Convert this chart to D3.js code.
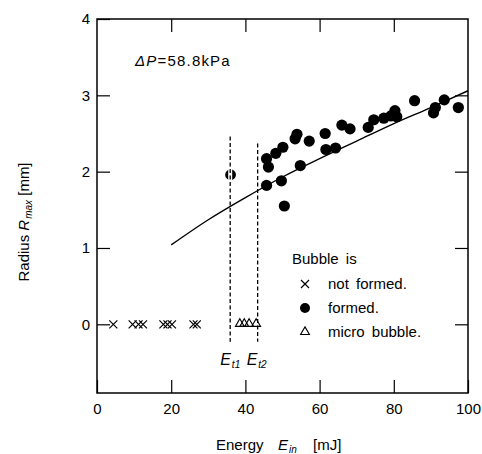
<!DOCTYPE html>
<html>
<head>
<meta charset="utf-8">
<script src="https://cdn.jsdelivr.net/npm/d3@7/dist/d3.min.js"></script>
<style>
  html, body { margin: 0; padding: 0; background: #fff; }
  svg { display: block; }
  text { font-family: "Liberation Sans", Arial, Helvetica, sans-serif; fill: #000; }
</style>
</head>
<body>
<svg id="chart" width="482" height="454"></svg>
<script>
// Energy (mJ) where no bubble was formed; radius plotted at 0
const notFormedE = [4.4, 9.6, 11.2, 12.4, 17.9, 19.0, 20.2, 26.0, 26.9];
const notFormedR = [0, 0, 0, 0, 0, 0, 0, 0, 0];

// Energy (mJ) giving only micro bubbles; radius plotted at 0
const microE = [38.5, 39.7, 41.0, 42.9];
const microR = [0, 0, 0, 0];

// Formed bubbles: energy (mJ) and maximum radius (mm)
const formedE = [45.7, 46.2, 48.2, 50.1, 53.4, 53.9, 57.2, 61.5, 61.7, 64.3,
                 66.0, 68.2, 73.1, 74.6, 77.3, 79.2, 80.3, 80.8, 85.6, 90.7,
                 91.2, 93.6, 97.4, 54.8, 45.7, 49.7, 50.5];
const formedR = [2.17, 2.06, 2.24, 2.32, 2.43, 2.49, 2.40, 2.50, 2.29, 2.31,
                 2.61, 2.56, 2.58, 2.68, 2.70, 2.73, 2.80, 2.72, 2.93, 2.77,
                 2.84, 2.94, 2.84, 2.08, 1.82, 1.88, 1.55];

// Single bubble observed at the first threshold energy
const thresholdPointE = [36.0];
const thresholdPointR = [1.96];

// Fitted curve through the formed-bubble data
const fitE = [20, 30, 40, 50, 60, 70, 80, 90, 100];
const fitR = [1.04, 1.37, 1.66, 1.93, 2.17, 2.40, 2.63, 2.84, 3.06];

// Threshold energies and extent of their marker lines
const thresholdE = [35.9, 43.3];
const thresholdTop = [2.46, 2.37];
const thresholdBottom = -0.23;
const thresholdNames = ["t1", "t2"];

// Axis ticks
const xTicks = [0, 20, 40, 60, 80, 100];
const yTicks = [0, 1, 2, 3, 4];

// Legend entries
const legendKinds = ["cross", "dot", "triangle"];
const legendLabels = ["not formed.", "formed.", "micro bubble."];

const svg = d3.select("#chart");
const frame = { left: 97, right: 468, top: 19, bottom: 393 };

const x = d3.scaleLinear().domain([0, 100]).range([frame.left, frame.right]);
const y = d3.scaleLinear().domain([-0.9, 4]).range([frame.bottom, frame.top]);

const tickLen = 13;
const font = 15;

// Plot frame
svg.append("rect")
  .attr("x", frame.left).attr("y", frame.top)
  .attr("width", frame.right - frame.left)
  .attr("height", frame.bottom - frame.top)
  .attr("fill", "none").attr("stroke", "#000").attr("stroke-width", 1.5);

// Inward ticks on all four sides
const axisBottom = d3.axisBottom(x).tickValues(xTicks).tickSize(-tickLen).tickPadding(10).tickFormat(d3.format("d"));
const axisTop = d3.axisTop(x).tickValues(xTicks.slice(1, -1)).tickSize(-tickLen).tickFormat("");
const axisLeft = d3.axisLeft(y).tickValues(yTicks).tickSize(-tickLen).tickPadding(7).tickFormat(d3.format("d"));
const axisRight = d3.axisRight(y).tickValues(yTicks.slice(0, -1)).tickSize(-tickLen).tickFormat("");

function styleAxis(g) {
  g.select(".domain").remove();
  g.selectAll(".tick line").attr("stroke", "#000").attr("stroke-width", 1.2);
  g.selectAll(".tick text").attr("font-size", font).attr("fill", "#000")
    .style("font-family", '"Liberation Sans", Arial, sans-serif');
}

svg.append("g").attr("transform", `translate(0,${frame.bottom})`).call(axisBottom).call(styleAxis);
svg.append("g").attr("transform", `translate(0,${frame.top})`).call(axisTop).call(styleAxis);
svg.append("g").attr("transform", `translate(${frame.left},0)`).call(axisLeft).call(styleAxis);
svg.append("g").attr("transform", `translate(${frame.right},0)`).call(axisRight).call(styleAxis);

// Fitted curve
const line = d3.line().x(d => x(d[0])).y(d => y(d[1])).curve(d3.curveMonotoneX);
svg.append("path")
  .datum(fitE.map((e, i) => [e, fitR[i]]))
  .attr("d", line)
  .attr("fill", "none").attr("stroke", "#000").attr("stroke-width", 1.4);

// Formed bubbles
svg.append("g").selectAll("circle")
  .data(formedE.map((e, i) => [e, formedR[i]]))
  .join("circle")
  .attr("cx", d => x(d[0])).attr("cy", d => y(d[1]))
  .attr("r", 5.6).attr("fill", "#000");

// Bubble sitting on the first threshold line
svg.append("g").selectAll("circle")
  .data(thresholdPointE.map((e, i) => [e, thresholdPointR[i]]))
  .join("circle")
  .attr("cx", d => x(d[0])).attr("cy", d => y(d[1]))
  .attr("r", 5.4).attr("fill", "#000");

// Threshold lines with a white gap around them
const thr = thresholdE.map((e, i) => ({ e, top: thresholdTop[i], name: thresholdNames[i] }));
svg.append("g").selectAll("line")
  .data(thr.slice(0, 1))
  .join("line")
  .attr("x1", d => x(d.e)).attr("x2", d => x(d.e))
  .attr("y1", y(thresholdPointR[0]) - 6).attr("y2", y(thresholdPointR[0]) + 6)
  .attr("stroke", "#fff").attr("stroke-width", 4);
svg.append("g").selectAll("line")
  .data(thr)
  .join("line")
  .attr("x1", d => x(d.e)).attr("x2", d => x(d.e))
  .attr("y1", d => y(d.top)).attr("y2", y(thresholdBottom))
  .attr("stroke", "#000").attr("stroke-width", 1.3)
  .attr("stroke-dasharray", "4,2.5");

// Not-formed crosses
function cross(g, cx, cy, s) {
  g.append("path")
    .attr("d", `M${cx - s},${cy - s}L${cx + s},${cy + s}M${cx - s},${cy + s}L${cx + s},${cy - s}`)
    .attr("stroke", "#000").attr("stroke-width", 1.2).attr("fill", "none");
}
const crossG = svg.append("g");
notFormedE.forEach((e, i) => cross(crossG, x(e), y(notFormedR[i]), 4));

// Micro bubble triangles
const tri = d3.symbol().type(d3.symbolTriangle).size(34);
svg.append("g").selectAll("path")
  .data(microE.map((e, i) => [e, microR[i]]))
  .join("path")
  .attr("d", tri)
  .attr("transform", d => `translate(${x(d[0])},${y(d[1]) - 0.5})`)
  .attr("fill", "none").attr("stroke", "#000").attr("stroke-width", 1.1);

// Threshold labels below the dashed lines
const thrLabels = svg.append("g");
thr.forEach((d, i) => {
  const t = thrLabels.append("text")
    .attr("x", x(d.e) - 10 + (i === 1 ? -1 : 0)).attr("y", 365)
    .attr("font-size", 16).attr("font-style", "italic");
  t.append("tspan").text("E");
  t.append("tspan").attr("font-size", 10).attr("dy", 3).attr("dx", 1).text(d.name);
});

// Pressure annotation
const pLabel = svg.append("text").attr("x", 135).attr("y", 66).attr("font-size", font)
  .attr("letter-spacing", 1.2);
pLabel.append("tspan").attr("font-style", "italic").text("\u0394P");
pLabel.append("tspan").text("=58.8kPa");

// Legend
const legend = svg.append("g");
legend.append("text").attr("x", 292).attr("y", 264).attr("font-size", font)
  .attr("word-spacing", 3).text("Bubble is");
legendKinds.forEach((k, i) => {
  const cy = 284 + i * 24;
  if (k === "cross") cross(legend, 305, cy, 4);
  if (k === "dot") legend.append("circle").attr("cx", 305).attr("cy", cy).attr("r", 5).attr("fill", "#000");
  if (k === "triangle") legend.append("path").attr("d", tri)
    .attr("transform", `translate(305,${cy})`)
    .attr("fill", "none").attr("stroke", "#000").attr("stroke-width", 1.1);
  legend.append("text").attr("x", 328).attr("y", cy + 5).attr("font-size", font)
    .attr("word-spacing", 3).text(legendLabels[i]);
});

// Axis titles
const xTitle = svg.append("text").attr("x", 216).attr("y", 450).attr("font-size", font);
xTitle.append("tspan").text("Energy");
xTitle.append("tspan").attr("x", 278).attr("font-style", "italic").text("E");
xTitle.append("tspan").attr("font-style", "italic").attr("font-size", 10).attr("dy", 3).attr("dx", 1).text("in");
xTitle.append("tspan").attr("x", 313).attr("dy", -3).text("[mJ]");

const yTitle = svg.append("text")
  .attr("transform", "translate(29,222) rotate(-90)")
  .attr("text-anchor", "middle").attr("font-size", font);
yTitle.append("tspan").text("Radius  ");
yTitle.append("tspan").attr("font-style", "italic").text("R");
yTitle.append("tspan").attr("font-style", "italic").attr("font-size", 10).attr("dy", 3).attr("dx", 1).text("max");
yTitle.append("tspan").attr("dy", -3).text("  [mm]");
</script>
</body>
</html>
